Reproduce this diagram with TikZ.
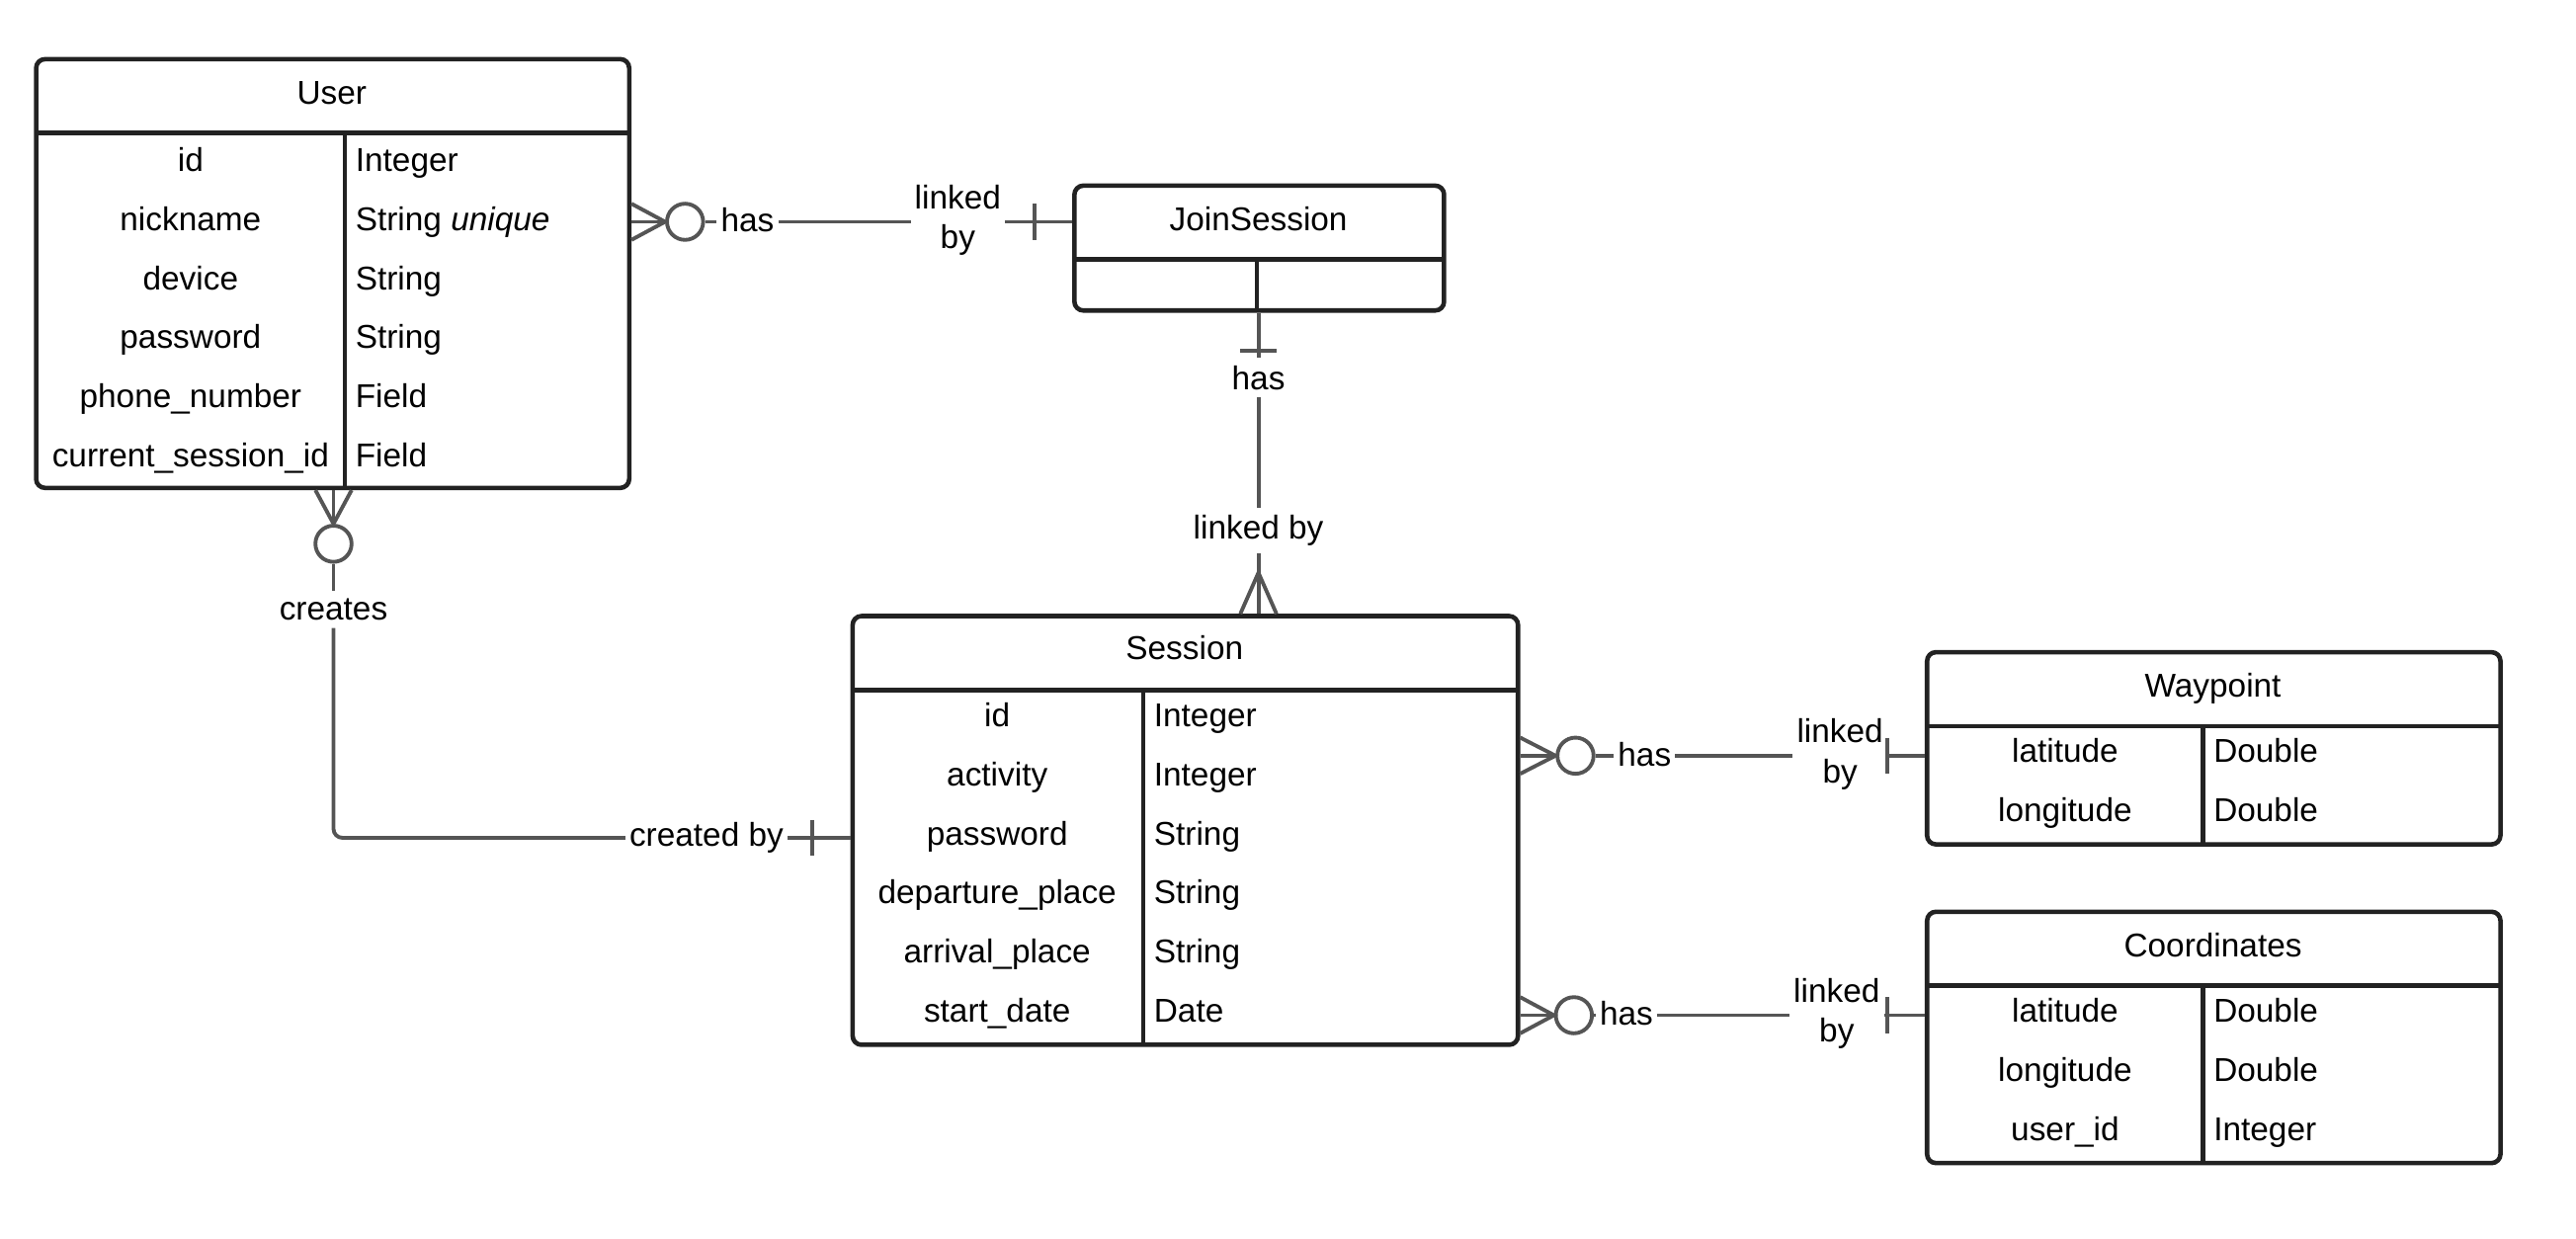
\documentclass[tikz,border=0pt]{standalone}
\usepackage{fontspec}
\setmainfont{Liberation Sans}
\usetikzlibrary{fit,calc}

\definecolor{boxline}{HTML}{222222}
\definecolor{connline}{HTML}{555555}

\tikzset{
	entity/.style={draw=boxline, line width=1.3pt, rounded corners=0.09cm, inner sep=0pt},
	rule/.style={draw=boxline, line width=1.3pt},
	conn/.style={draw=connline, line width=1.1pt},
	zero/.style={circle, draw=connline, line width=1.1pt, minimum size=0.366cm, inner sep=0pt},
	lbl/.style={inner xsep=1pt, inner ysep=2pt, align=center},
	cell/.style={inner sep=0pt, text height=8.5pt, text depth=1.6pt},
}

\begin{document}
\begin{tikzpicture}[x=0.016626cm, y=-0.016626cm, font=\fontsize{9.5pt}{11.5pt}\selectfont]
	\useasboundingbox (0,0) rectangle (1568,754);

	% entity User
	\node[entity, fit={(22,36) (383,297)}] (user) {};
	\draw[rule] (22,81) -- (383,81);
	\draw[rule] (210,81) -- (210,297);
	\node[cell] (usertitle) at (202,56) {User};
	\node[cell] (uid) at (116,97) {id};
	\node[cell] (unick) at (116,133) {nickname};
	\node[cell] (udev) at (116,169) {device};
	\node[cell] (upass) at (116,205) {password};
	\node[cell] (uphone) at (116,241) {phone\_number};
	\node[cell] (ucur) at (116,277) {current\_session\_id};
	\node[cell, anchor=west] (uidt) at (216,97) {Integer};
	\node[cell, anchor=west] (unickt) at (216,133) {String \textit{unique}};
	\node[cell, anchor=west] (udevt) at (216,169) {String};
	\node[cell, anchor=west] (upasst) at (216,205) {String};
	\node[cell, anchor=west] (uphonet) at (216,241) {Field};
	\node[cell, anchor=west] (ucurt) at (216,277) {Field};

	% entity JoinSession
	\node[entity, fit={(654,113) (879,189)}] (join) {};
	\draw[rule] (654,158) -- (879,158);
	\draw[rule] (765,158) -- (765,189);
	\node[cell] (jointitle) at (766,133) {JoinSession};

	% entity Session
	\node[entity, fit={(519,375) (924,636)}] (session) {};
	\draw[rule] (519,420) -- (924,420);
	\draw[rule] (696,420) -- (696,636);
	\node[cell] (sesstitle) at (721,394) {Session};
	\node[cell] (sid) at (607,435) {id};
	\node[cell] (sact) at (607,471) {activity};
	\node[cell] (spass) at (607,507) {password};
	\node[cell] (sdep) at (607,543) {departure\_place};
	\node[cell] (sarr) at (607,579) {arrival\_place};
	\node[cell] (sstart) at (607,615) {start\_date};
	\node[cell, anchor=west] (sidt) at (702,435) {Integer};
	\node[cell, anchor=west] (sactt) at (702,471) {Integer};
	\node[cell, anchor=west] (spasst) at (702,507) {String};
	\node[cell, anchor=west] (sdept) at (702,543) {String};
	\node[cell, anchor=west] (sarrt) at (702,579) {String};
	\node[cell, anchor=west] (sstartt) at (702,615) {Date};

	% entity Waypoint
	\node[entity, fit={(1173,397) (1522,514)}] (waypoint) {};
	\draw[rule] (1173,442) -- (1522,442);
	\draw[rule] (1341,442) -- (1341,514);
	\node[cell] (waytitle) at (1347,417) {Waypoint};
	\node[cell] (wlat) at (1257,457) {latitude};
	\node[cell] (wlon) at (1257,493) {longitude};
	\node[cell, anchor=west] (wlatt) at (1347,457) {Double};
	\node[cell, anchor=west] (wlont) at (1347,493) {Double};

	% entity Coordinates
	\node[entity, fit={(1173,555) (1522,708)}] (coords) {};
	\draw[rule] (1173,600) -- (1522,600);
	\draw[rule] (1341,600) -- (1341,708);
	\node[cell] (coordtitle) at (1347,575) {Coordinates};
	\node[cell] (clat) at (1257,615) {latitude};
	\node[cell] (clon) at (1257,651) {longitude};
	\node[cell] (cuser) at (1257,687) {user\_id};
	\node[cell, anchor=west] (clatt) at (1347,615) {Double};
	\node[cell, anchor=west] (clont) at (1347,651) {Double};
	\node[cell, anchor=west] (cusert) at (1347,687) {Integer};

	% User -- JoinSession
	\node[zero] (uz) at (417,135) {};
	\node[lbl] (uhas) at (455,134) {has};
	\node[lbl] (ulink) at (583,134) {linked\\by};
	\draw[conn] (user.east |- uz) -- (uz.west);
	\draw[conn] ($(user.east |- uz)+(0,-11)$) -- (uz.west) -- ($(user.east |- uz)+(0,11)$);
	\draw[conn] (uz.east) -- (uhas.west |- uz);
	\draw[conn] (uhas.east |- uz) -- (ulink.west |- uz);
	\draw[conn] (ulink.east |- uz) -- (join.west |- uz);
	\draw[conn] ($(join.west |- uz)+(-23,-11)$) -- ($(join.west |- uz)+(-23,11)$);

	% JoinSession -- Session
	\node[lbl] (jhas) at (766,230) {has};
	\node[lbl] (slink) at (766,323) {linked by};
	\draw[conn] (join.south -| jhas) -- (jhas.north);
	\draw[conn] ($(join.south -| jhas)+(-11,23)$) -- ($(join.south -| jhas)+(11,23)$);
	\draw[conn] (jhas.south) -- (slink.north);
	\draw[conn] (slink.south) -- (session.north -| slink);
	\draw[conn] ($(session.north -| slink)+(-11,0)$) -- ($(session.north -| slink)+(0,-25)$) -- ($(session.north -| slink)+(11,0)$);

	% User -- Session
	\node[zero] (cz) at (203,331) {};
	\node[lbl] (ccreates) at (203,371) {creates};
	\node[lbl] (ccreated) at (430,510) {created by};
	\draw[conn] (cz |- user.south) -- (cz.north);
	\draw[conn] ($(cz |- user.south)+(-11,0)$) -- (cz.north) -- ($(cz |- user.south)+(11,0)$);
	\draw[conn] (cz.south) -- (ccreates.north);
	\draw[conn, rounded corners=0.09cm] (ccreates.south) |- (ccreated.west);
	\draw[conn] (ccreated.east) -- (session.west |- ccreated);
	\draw[conn] ($(session.west |- ccreated)+(-23,-11)$) -- ($(session.west |- ccreated)+(-23,11)$);

	% Session -- Waypoint
	\node[zero] (wz) at (959,460) {};
	\node[lbl] (whas) at (1001,459) {has};
	\node[lbl] (wlink) at (1120,459) {linked\\by};
	\draw[conn] (session.east |- wz) -- (wz.west);
	\draw[conn] ($(session.east |- wz)+(0,-11)$) -- (wz.west) -- ($(session.east |- wz)+(0,11)$);
	\draw[conn] (wz.east) -- (whas.west |- wz);
	\draw[conn] (whas.east |- wz) -- (wlink.west |- wz);
	\draw[conn] (wlink.east |- wz) -- (waypoint.west |- wz);
	\draw[conn] ($(waypoint.west |- wz)+(-23,-11)$) -- ($(waypoint.west |- wz)+(-23,11)$);

	% Session -- Coordinates
	\node[zero] (kz) at (958,618) {};
	\node[lbl] (khas) at (990,617) {has};
	\node[lbl] (klink) at (1118,617) {linked\\by};
	\draw[conn] (session.east |- kz) -- (kz.west);
	\draw[conn] ($(session.east |- kz)+(0,-11)$) -- (kz.west) -- ($(session.east |- kz)+(0,11)$);
	\draw[conn] (kz.east) -- (khas.west |- kz);
	\draw[conn] (khas.east |- kz) -- (klink.west |- kz);
	\draw[conn] (klink.east |- kz) -- (coords.west |- kz);
	\draw[conn] ($(coords.west |- kz)+(-23,-11)$) -- ($(coords.west |- kz)+(-23,11)$);

\end{tikzpicture}
\end{document}
